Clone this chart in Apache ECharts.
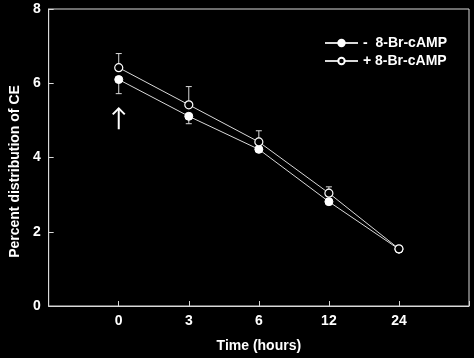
<!DOCTYPE html>
<html><head><meta charset="utf-8">
<script src="https://cdn.jsdelivr.net/npm/echarts@6/dist/echarts.min.js"></script>
<style>html,body{margin:0;padding:0;background:#000;}#c{width:474px;height:358px;}</style>
</head><body><div id="c"></div>
<script>
var timeLabels = ['0', '3', '6', '12', '24'];
var minusName = '-  8-Br-cAMP';
var plusName = '+ 8-Br-cAMP';
var minusValues = [6.10, 5.11, 4.22, 2.81, 1.53];
var plusValues = [6.42, 5.42, 4.42, 3.04, 1.54];
var minusErrDown = [0.38, 0.20, 0.05, 0.05, 0.07];
var plusErrUp = [0.38, 0.49, 0.30, 0.17, 0.07];
var yTicks = [0, 2, 4, 6, 8];
var arrowAt = [0, 5.35, 4.76];

var FONT = 'Liberation Sans, Arial, sans-serif';
var AX = '#d9d9d9';
function pts(v){ return v.map(function(y,i){ return [i, y]; }); }
function errData(v, e, dir){ return v.map(function(y,i){ return [i, y, y + dir*e[i]]; }); }
function errRender(params, api){
  var x = api.value(0);
  var a = api.coord([x, api.value(1)]);
  var b = api.coord([x, api.value(2)]);
  var w = 3;
  return {type:'group', children:[
    {type:'line', shape:{x1:a[0],y1:a[1],x2:b[0],y2:b[1]}, style:{stroke:AX, lineWidth:1}},
    {type:'line', shape:{x1:b[0]-w,y1:b[1],x2:b[0]+w,y2:b[1]}, style:{stroke:AX, lineWidth:1}}
  ]};
}
var chart = echarts.init(document.getElementById('c'));
chart.setOption({
  backgroundColor:'#000',
  animation:false,
  grid:{left:44, right:5, top:9, bottom:52, show:true, borderColor:AX, borderWidth:1},
  legend:{
    orient:'vertical', left:319, top:31, itemWidth:33, itemHeight:8, itemGap:4,
    data:[minusName, plusName],
    textStyle:{color:'#fff', fontFamily:FONT, fontWeight:'bold', fontSize:14, lineHeight:14}
  },
  xAxis:{
    type:'value', min:-1, max:5, interval:1,
    name:'Time (hours)', nameLocation:'middle', nameGap:33,
    nameTextStyle:{color:'#fff', fontFamily:FONT, fontWeight:'bold', fontSize:14},
    axisLine:{onZero:false, lineStyle:{color:AX}},
    axisTick:{inside:true, length:5, lineStyle:{color:AX}},
    splitLine:{show:false},
    axisLabel:{color:'#fff', fontFamily:FONT, fontWeight:'bold', fontSize:14, margin:8,
      formatter:function(v){ return (v>=0 && v<timeLabels.length) ? timeLabels[v] : ''; }}
  },
  yAxis:{
    type:'value', min:yTicks[0], max:yTicks[yTicks.length-1], interval:2,
    name:'Percent distribution of CE', nameLocation:'middle', nameGap:24,
    nameTextStyle:{color:'#fff', fontFamily:FONT, fontWeight:'bold', fontSize:14, padding:[0,28,0,0]},
    axisLine:{show:true, onZero:false, lineStyle:{color:AX}},
    axisTick:{show:true, inside:true, length:5, lineStyle:{color:AX}},
    splitLine:{show:false},
    axisLabel:{color:'#fff', fontFamily:FONT, fontWeight:'bold', fontSize:14, margin:8}
  },
  series:[
    {type:'custom', silent:true, renderItem:errRender, data:errData(minusValues, minusErrDown, -1), z:1},
    {type:'custom', silent:true, renderItem:errRender, data:errData(plusValues, plusErrUp, 1), z:1},
    {name:minusName, type:'line', data:pts(minusValues), symbol:'circle', symbolSize:8,
      lineStyle:{color:AX, width:1}, itemStyle:{color:'#fff', borderColor:'#fff', borderWidth:1}, z:3},
    {name:plusName, type:'line', data:pts(plusValues), symbol:'circle', symbolSize:8,
      lineStyle:{color:AX, width:1}, itemStyle:{color:'#000', borderColor:'#fff', borderWidth:1.2}, z:4},
    {type:'custom', silent:true, data:[arrowAt], z:5,
      renderItem:function(params, api){
        var t = api.coord([api.value(0), api.value(1)]);
        var b = api.coord([api.value(0), api.value(2)]);
        return {type:'group', children:[
          {type:'line', shape:{x1:t[0],y1:t[1]+1,x2:b[0],y2:b[1]}, style:{stroke:'#fff', lineWidth:2}},
          {type:'polyline', shape:{points:[[t[0]-6,t[1]+7],[t[0],t[1]+1],[t[0]+6,t[1]+7]]}, style:{stroke:'#fff', lineWidth:2, fill:null}}
        ]};
      }}
  ]
});
</script></body></html>
